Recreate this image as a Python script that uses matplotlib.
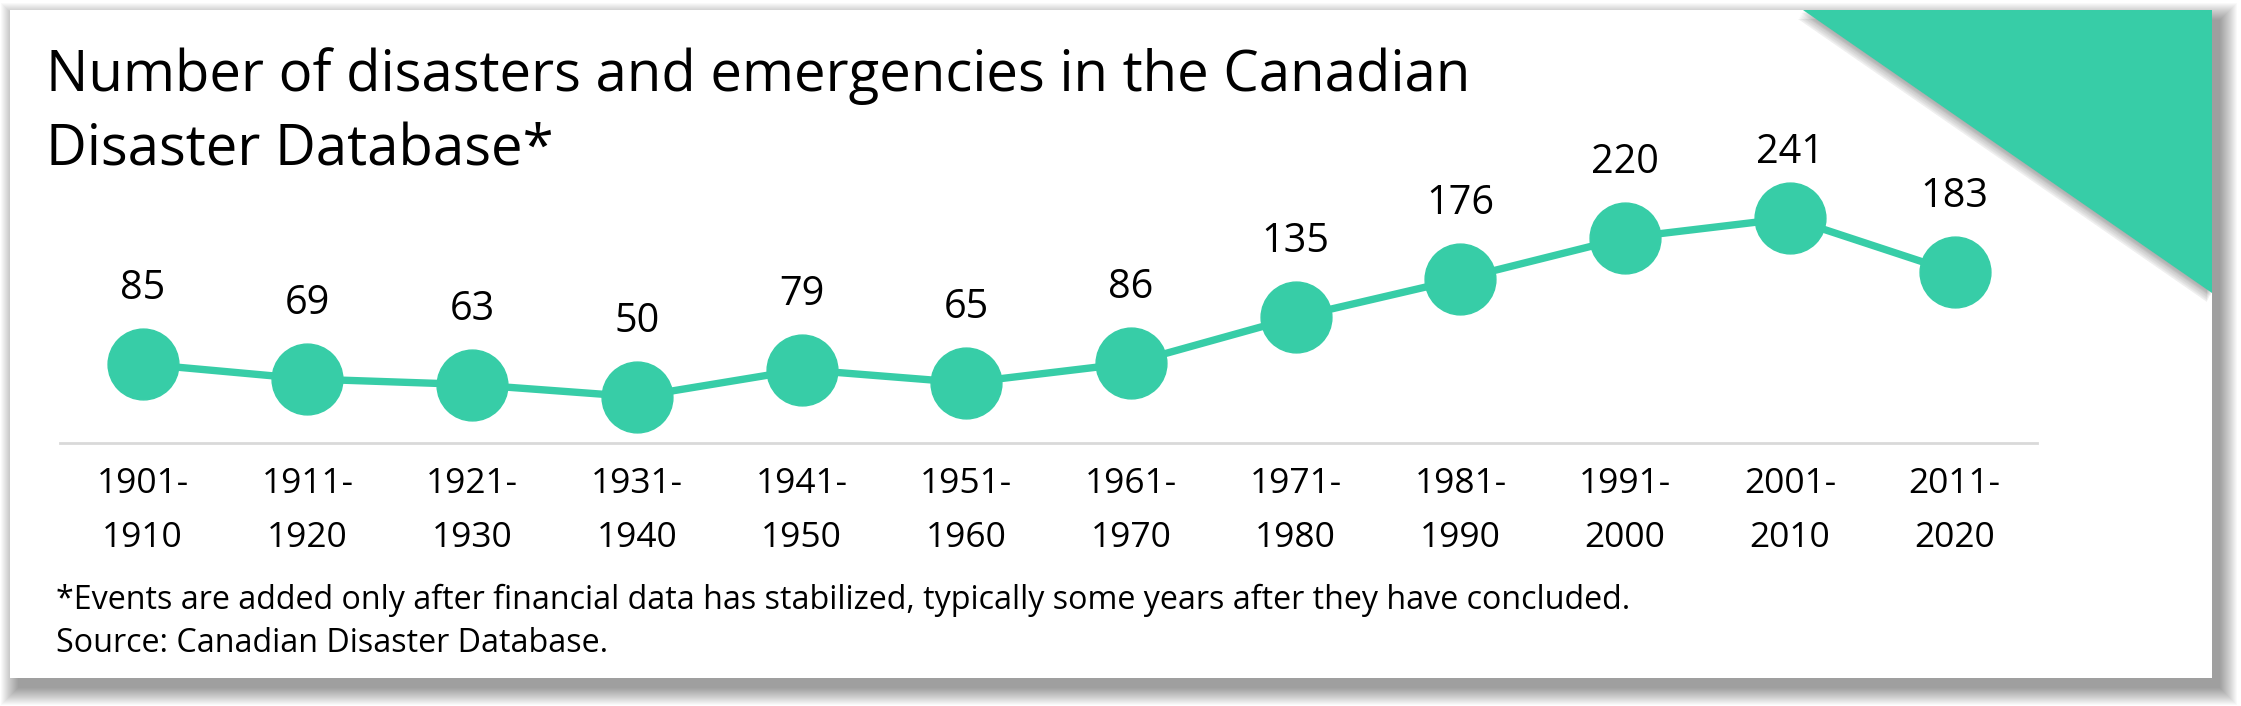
import numpy as np
import matplotlib
matplotlib.use("Agg")
from matplotlib import pyplot as plt
from matplotlib.patches import Rectangle, Polygon

# data
periods = ["1901-\n1910", "1911-\n1920", "1921-\n1930", "1931-\n1940", "1941-\n1950", "1951-\n1960",
           "1961-\n1970", "1971-\n1980", "1981-\n1990", "1991-\n2000", "2001-\n2010", "2011-\n2020"]
counts = [85, 69, 63, 50, 79, 65, 86, 135, 176, 220, 241, 183]

title1 = "Number of disasters and emergencies in the Canadian"
title2 = "Disaster Database*"
note1 = "*Events are added only after financial data has stabilized, typically some years after they have concluded."
note2 = "Source: Canadian Disaster Database."

green = '#37cda7'
plt.rcParams['font.family'] = ['Open Sans', 'DejaVu Sans']

W, H = 2241, 706
fig = plt.figure(figsize=(W/100, H/100), dpi=100)
fig.patch.set_facecolor('white')

# background layer in pixel coords (y down)
bg = fig.add_axes([0, 0, 1, 1], zorder=-1)
bg.set_xlim(0, W)
bg.set_ylim(H, 0)
bg.axis('off')

# card shadow (mostly down/right, soft)
cx0, cy0, cx1, cy1 = 10, 10, 2212, 678
n = 18
for i in range(n):
    bg.add_patch(Rectangle((cx0 + 8 - i, cy0 + 10 - i), (cx1 - cx0) + 2*i, (cy1 - cy0) + 2*i,
                           facecolor='black', edgecolor='none', alpha=0.022))
card = Rectangle((cx0, cy0), cx1 - cx0, cy1 - cy0, facecolor='white', edgecolor='none')
bg.add_patch(card)

# corner triangle with soft shadow
tri = np.array([[1803, cy0], [cx1, cy0], [cx1, 293]])
for k in range(1, 12):
    sh = Polygon(tri + np.array([-0.5*k, 0.85*k]), closed=True, facecolor='black',
                 edgecolor='none', alpha=0.03)
    bg.add_patch(sh)
    sh.set_clip_path(card)
bg.add_patch(Polygon(tri, closed=True, facecolor=green, edgecolor='none'))

# chart
ymax = 330
ax = fig.add_axes([60.3/W, 1 - 443.5/H, (2037 - 60.3)/W, (ymax*0.935)/H], zorder=1)
ax.patch.set_alpha(0)
x = np.arange(len(counts))
ax.plot(x, counts, color=green, lw=5.3, marker='o', markersize=51, solid_capstyle='round')
ax.set_xlim(-0.5, len(counts) - 0.5)
ax.set_ylim(0, ymax)
for xi, v in zip(x, counts):
    ax.text(xi, min(v + 69.5, ymax - 30.5), str(v), ha='center', va='baseline', fontsize=28.5)

ax.set_xticks(x)
ax.set_xticklabels(periods, fontsize=25.5, linespacing=1.75)
ax.tick_params(axis='x', length=0, pad=17)
ax.set_yticks([])
for s in ['top', 'right', 'left']:
    ax.spines[s].set_visible(False)
ax.spines['bottom'].set_color('#d9d9d9')
ax.spines['bottom'].set_linewidth(2)

fig.text(46/W, 1 - 90.7/H, title1, fontsize=40.5, va='baseline', ha='left')
fig.text(46/W, 1 - 165/H, title2, fontsize=40.5, va='baseline', ha='left')
fig.text(56/W, 1 - 609/H, note1, fontsize=23.2, va='baseline', ha='left')
fig.text(56/W, 1 - 652/H, note2, fontsize=23.2, va='baseline', ha='left')

fig.savefig('out.png', dpi=100)
